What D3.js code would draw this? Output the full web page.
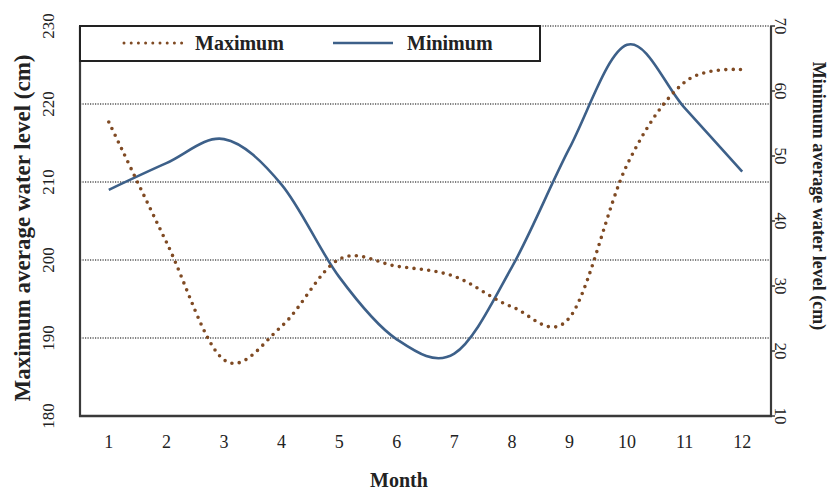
<!DOCTYPE html>
<html>
<head>
<meta charset="utf-8">
<script src="https://cdn.jsdelivr.net/npm/d3@7"></script>
<style>
  body { margin: 0; background: #fff; }
  text { font-family: "Liberation Serif", "Times New Roman", serif; fill: #222; }
</style>
</head>
<body>
<script>
const months = ["1", "2", "3", "4", "5", "6", "7", "8", "9", "10", "11", "12"];
const maximumLevel = [217.7, 202.3, 187.2, 191.5, 200.1, 199.2, 197.9, 194.0, 192.6, 212.2, 222.8, 224.4];
const minimumLevel = [44.8, 48.9, 52.6, 45.6, 31.4, 21.8, 19.6, 32.9, 51.2, 67.1, 57.4, 47.6];
const leftTicks = [180, 190, 200, 210, 220, 230];
const rightTicks = [10, 20, 30, 40, 50, 60, 70];
const gridValues = [190, 200, 210, 220, 230];

const width = 828, height = 492;
const margin = {top: 26, right: 57, bottom: 76, left: 80};

const svg = d3.select("body").append("svg")
    .attr("width", width)
    .attr("height", height);

const x = d3.scalePoint()
    .domain(months)
    .range([margin.left, width - margin.right])
    .padding(0.5);

const yLeft = d3.scaleLinear()
    .domain([180, 230])
    .range([height - margin.bottom, margin.top]);

const yRight = d3.scaleLinear()
    .domain([10, 70])
    .range([height - margin.bottom, margin.top]);

// dotted gridlines
svg.append("g")
    .selectAll("line")
    .data(gridValues)
    .enter().append("line")
    .attr("x1", margin.left)
    .attr("x2", width - margin.right)
    .attr("y1", d => yLeft(d))
    .attr("y2", d => yLeft(d))
    .style("stroke", "#555")
    .style("stroke-width", 1.3)
    .style("stroke-dasharray", "1.2,1.3");

// smoothed lines (like excel)
const lineMax = d3.line()
    .x((d, i) => x(months[i]))
    .y(d => yLeft(d))
    .curve(d3.curveCardinal.tension(0));

const lineMin = d3.line()
    .x((d, i) => x(months[i]))
    .y(d => yRight(d))
    .curve(d3.curveCardinal.tension(0));

const maxStyle = {stroke: "#7f4a23", width: 3.6, dash: "0,7.4"};
const minStyle = {stroke: "#3d6089", width: 2.6};

svg.append("path")
    .datum(minimumLevel)
    .attr("d", lineMin)
    .style("fill", "none")
    .style("stroke", minStyle.stroke)
    .style("stroke-width", minStyle.width);

svg.append("path")
    .datum(maximumLevel)
    .attr("d", lineMax)
    .style("fill", "none")
    .style("stroke", maxStyle.stroke)
    .style("stroke-width", maxStyle.width)
    .style("stroke-linecap", "round")
    .style("stroke-dasharray", maxStyle.dash);

// axes frame
const axisColor = "#3a3a3a";
svg.append("line")
    .attr("x1", margin.left).attr("x2", margin.left)
    .attr("y1", margin.top).attr("y2", height - margin.bottom + 1)
    .style("stroke", axisColor).style("stroke-width", 2.2);
svg.append("line")
    .attr("x1", margin.left - 1).attr("x2", width - margin.right + 1)
    .attr("y1", height - margin.bottom).attr("y2", height - margin.bottom)
    .style("stroke", axisColor).style("stroke-width", 2.4);
svg.append("line")
    .attr("x1", width - margin.right).attr("x2", width - margin.right)
    .attr("y1", margin.top).attr("y2", height - margin.bottom + 1)
    .style("stroke", axisColor).style("stroke-width", 2.2);

// right axis ticks
svg.append("g")
    .selectAll("line")
    .data(rightTicks)
    .enter().append("line")
    .attr("x1", width - margin.right)
    .attr("x2", width - margin.right + 4)
    .attr("y1", d => yRight(d))
    .attr("y2", d => yRight(d))
    .style("stroke", axisColor)
    .style("stroke-width", 1.5);

// tick labels
svg.append("g")
    .selectAll("text")
    .data(leftTicks)
    .enter().append("text")
    .attr("transform", d => `translate(48,${yLeft(d)}) rotate(-90)`)
    .attr("text-anchor", "middle")
    .attr("dy", "0.35em")
    .style("font-size", "17px")
    .text(d => d);

svg.append("g")
    .selectAll("text")
    .data(rightTicks)
    .enter().append("text")
    .attr("transform", d => `translate(781,${yRight(d)}) rotate(90)`)
    .attr("text-anchor", "middle")
    .attr("dy", "0.35em")
    .style("font-size", "17px")
    .text(d => d);

svg.append("g")
    .selectAll("text")
    .data(months)
    .enter().append("text")
    .attr("x", d => x(d))
    .attr("y", 448)
    .attr("text-anchor", "middle")
    .style("font-size", "18px")
    .text(d => d);

// axis titles
svg.append("text")
    .attr("transform", "translate(22,228) rotate(-90)")
    .attr("text-anchor", "middle")
    .attr("dy", "0.35em")
    .style("font-size", "23px")
    .style("font-weight", "bold")
    .text("Maximum average water level (cm)");

svg.append("text")
    .attr("transform", "translate(819,196) rotate(90)")
    .attr("text-anchor", "middle")
    .attr("dy", "0.35em")
    .style("font-size", "18px")
    .style("font-weight", "bold")
    .text("Minimum average water level (cm)");

svg.append("text")
    .attr("x", 399)
    .attr("y", 487)
    .attr("text-anchor", "middle")
    .style("font-size", "20px")
    .style("font-weight", "bold")
    .text("Month");

// legend
const legend = svg.append("g");
legend.append("rect")
    .attr("x", 80).attr("y", 26)
    .attr("width", 460).attr("height", 35)
    .style("fill", "#fff")
    .style("stroke", "#222")
    .style("stroke-width", 2);

legend.append("line")
    .attr("x1", 124).attr("x2", 182)
    .attr("y1", 43).attr("y2", 43)
    .style("stroke", maxStyle.stroke)
    .style("stroke-width", 3)
    .style("stroke-linecap", "round")
    .style("stroke-dasharray", "0,7.2");
legend.append("text")
    .attr("x", 195).attr("y", 50)
    .style("font-size", "20px")
    .style("font-weight", "bold")
    .text("Maximum");

legend.append("line")
    .attr("x1", 333).attr("x2", 393)
    .attr("y1", 43).attr("y2", 43)
    .style("stroke", minStyle.stroke)
    .style("stroke-width", minStyle.width);
legend.append("text")
    .attr("x", 407).attr("y", 50)
    .style("font-size", "20px")
    .style("font-weight", "bold")
    .text("Minimum");
</script>
</body>
</html>
